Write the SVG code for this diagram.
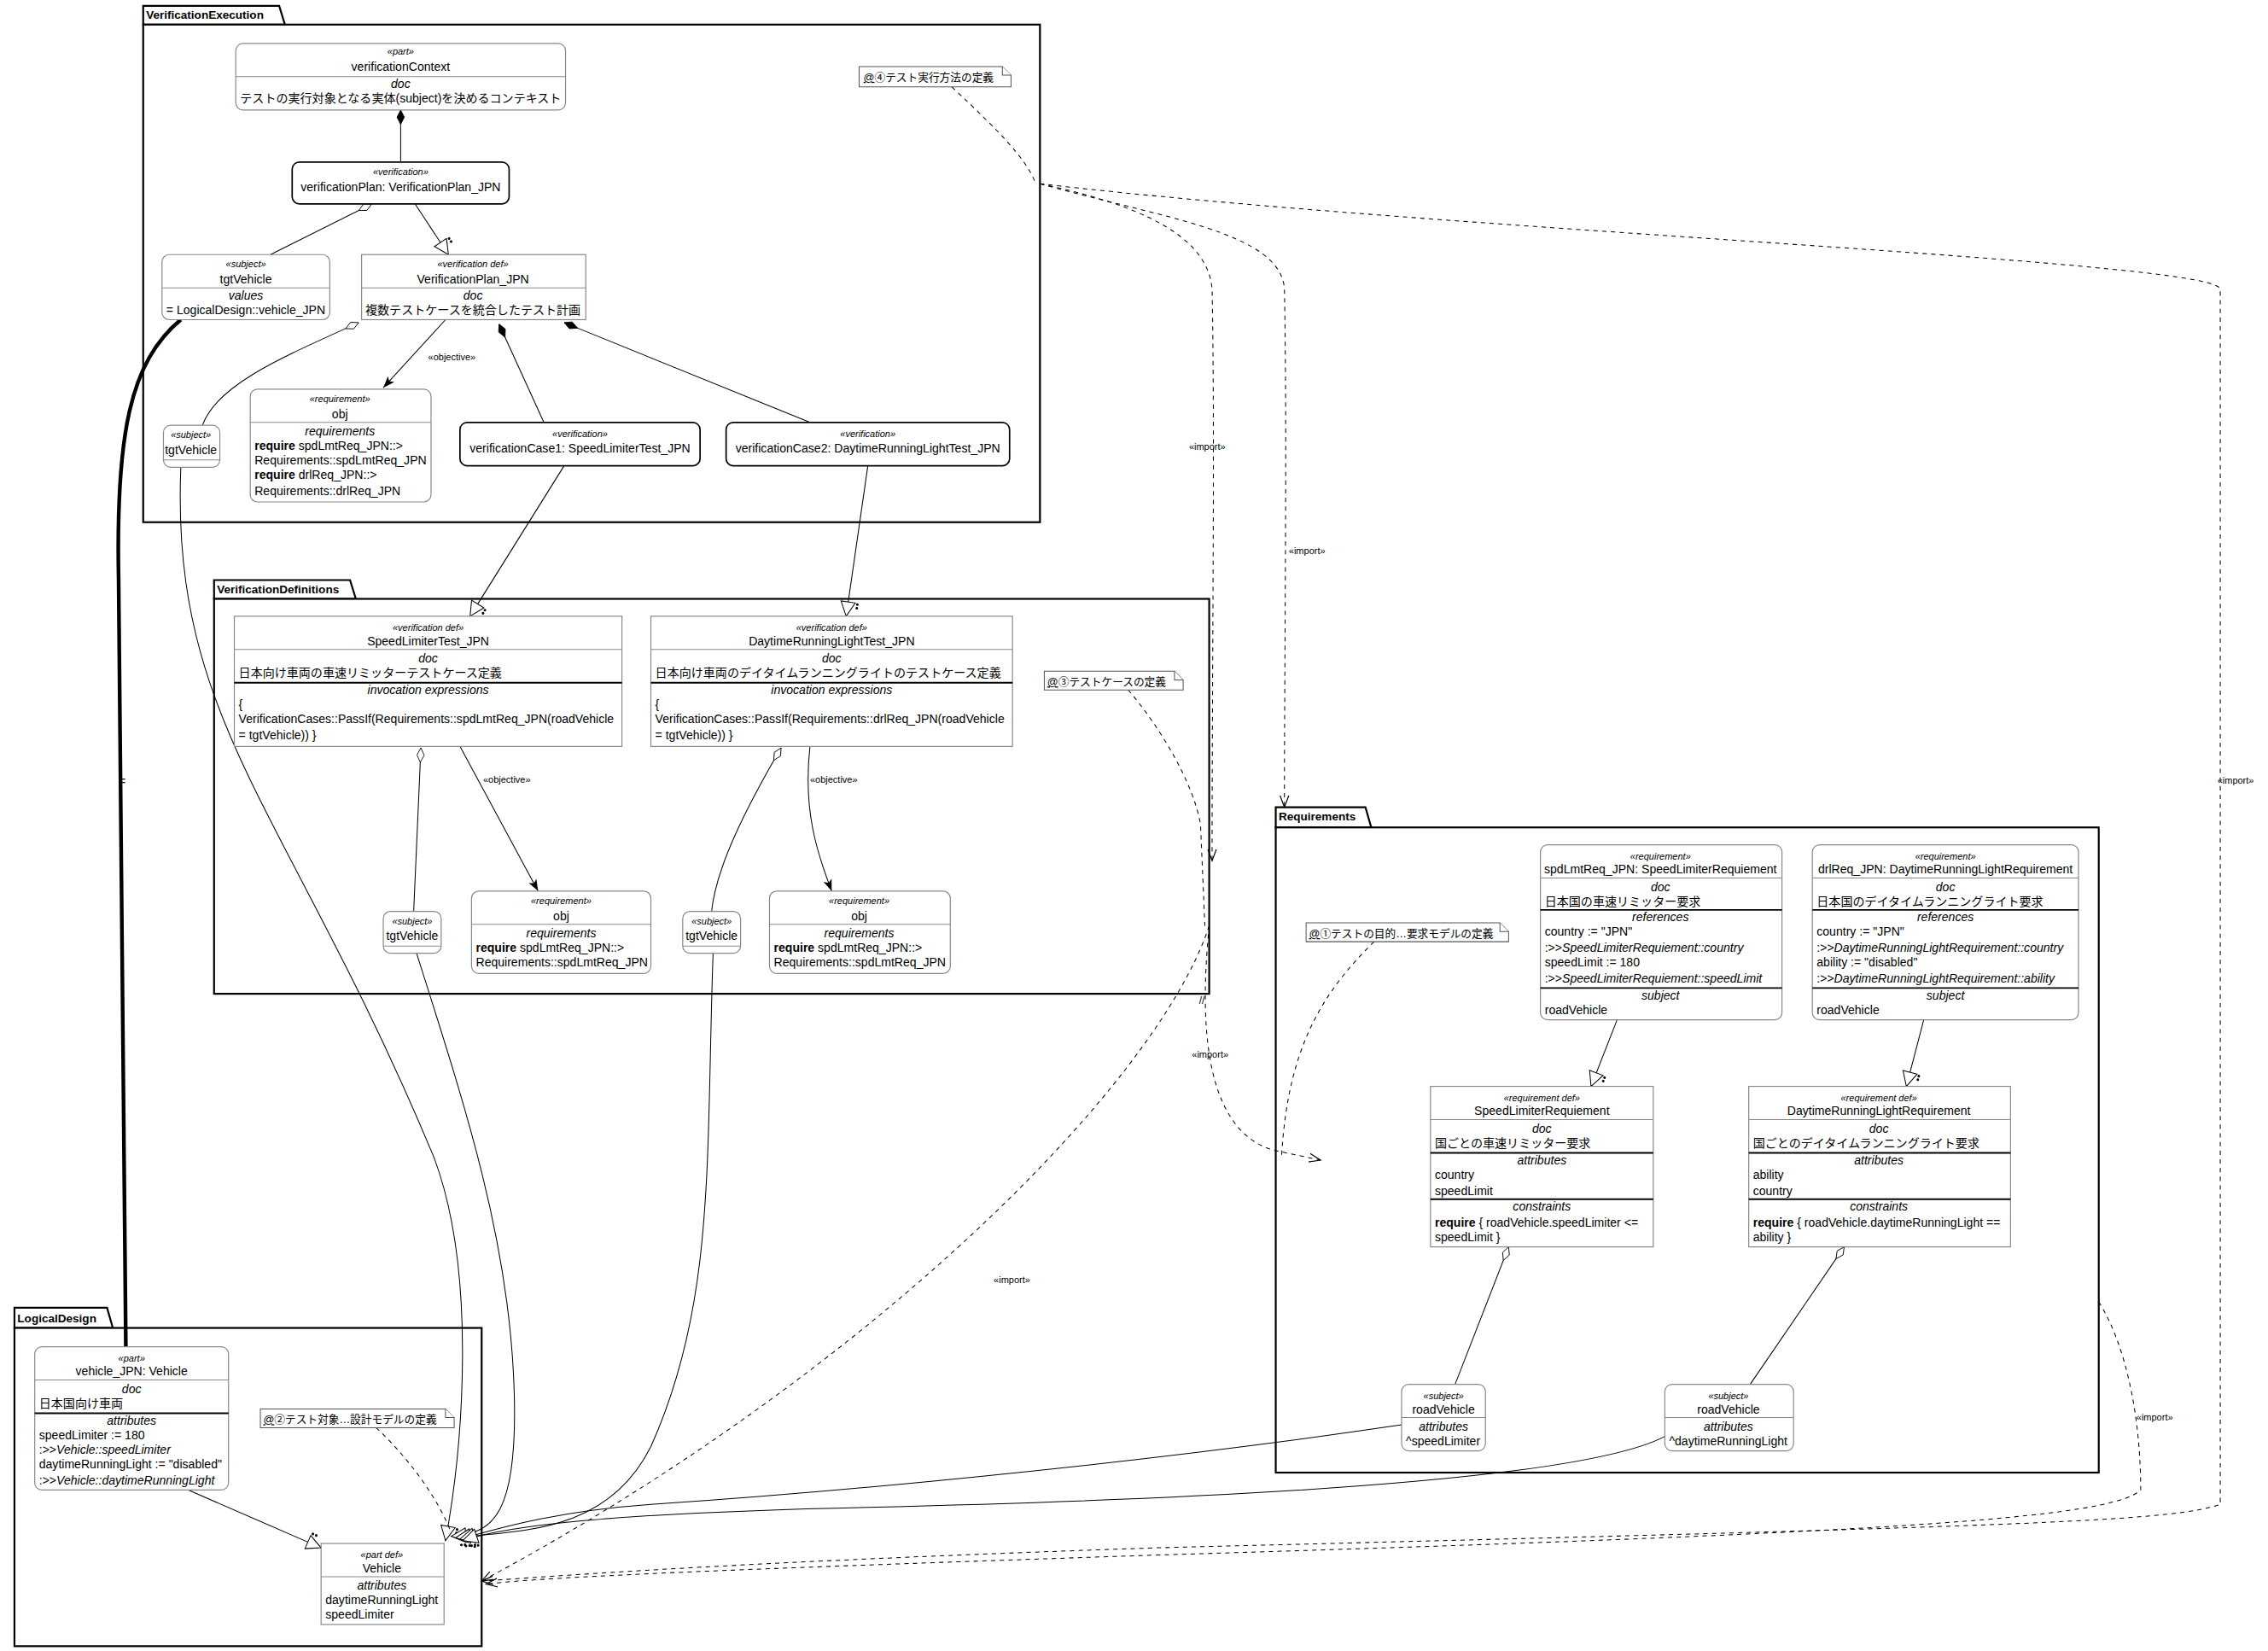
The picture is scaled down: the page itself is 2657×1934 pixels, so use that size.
<svg xmlns="http://www.w3.org/2000/svg" width="2657" height="1934" viewBox="0 0 2657 1934">
<style>
text{font-family:"Liberation Sans","Noto Sans CJK JP",sans-serif;font-size:8.3px;fill:#000}
.st{font-style:italic;font-size:6.5px}
.it{font-style:italic}
.b{font-weight:bold}
.c{text-anchor:middle}
.pk{fill:#fff;stroke:#000;stroke-width:1.3}
.pt{font-weight:bold;font-size:8px}
.bx{fill:#fff;stroke:#888;stroke-width:0.7}
.bv{fill:#fff;stroke:#000;stroke-width:1}
.sep{stroke:#888;stroke-width:0.6}
.tk{stroke:#000;stroke-width:1.1}
.ln{fill:none;stroke:#000;stroke-width:0.6}
.ds{fill:none;stroke:#000;stroke-width:0.6;stroke-dasharray:3,3}
.nt{fill:#fff;stroke:#555;stroke-width:0.6}
.nx{font-size:7.5px}
</style>
<defs>
<marker id="tri" markerUnits="userSpaceOnUse" markerWidth="14" markerHeight="16" viewBox="-2 -8 14 16" refX="10" refY="0" orient="auto"><path d="M0,-5 L10,0 L0,5 z" fill="#fff" stroke="#000" stroke-width="0.6"/><circle cx="1" cy="-6.5" r="0.9"/><circle cx="3.5" cy="-6.5" r="0.9"/></marker>
<marker id="fd" markerUnits="userSpaceOnUse" markerWidth="14" markerHeight="8" viewBox="0 -4 14 8" refX="0" refY="0" orient="auto"><path d="M0,0 L5,-2.5 L10,0 L5,2.5 z" fill="#000" stroke="#000" stroke-width="0.5"/></marker>
<marker id="od" markerUnits="userSpaceOnUse" markerWidth="14" markerHeight="8" viewBox="0 -4 14 8" refX="0" refY="0" orient="auto"><path d="M0,0 L5,-2.5 L10,0 L5,2.5 z" fill="#fff" stroke="#000" stroke-width="0.5"/></marker>
<marker id="fa" markerUnits="userSpaceOnUse" markerWidth="10" markerHeight="8" viewBox="0 -4 10 8" refX="8" refY="0" orient="auto"><path d="M0,-3 L8,0 L0,3 L2,0 z" fill="#000"/></marker>
<marker id="oa" markerUnits="userSpaceOnUse" markerWidth="10" markerHeight="8" viewBox="0 -4 10 8" refX="8" refY="0" orient="auto"><path d="M0,-3 L8,0 L0,3" fill="none" stroke="#000" stroke-width="0.7"/></marker>
</defs>
<rect width="2657" height="1934" fill="#fff"/>
<g transform="scale(1.6945)">
<g id="pkg-VerificationExecution"><path class="pk" d="M99,17 L99,4 L193,4 L197,17 Z"/><rect class="pk" x="99" y="17" width="620" height="344"/><text class="pt" x="101" y="13">VerificationExecution</text></g>
<g id="pkg-VerificationDefinitions"><path class="pk" d="M148,414 L148,401 L242,401 L246,414 Z"/><rect class="pk" x="148" y="414" width="688" height="273"/><text class="pt" x="150" y="410">VerificationDefinitions</text></g>
<g id="pkg-Requirements"><path class="pk" d="M882,572 L882,558 L944,558 L948,572 Z"/><rect class="pk" x="882" y="572" width="569" height="446"/><text class="pt" x="884" y="567">Requirements</text></g>
<g id="pkg-LogicalDesign"><path class="pk" d="M10,918 L10,904 L74,904 L78,918 Z"/><rect class="pk" x="10" y="918" width="323" height="220"/><text class="pt" x="12" y="914">LogicalDesign</text></g>

<g id="connectors">
<path class="ln" d="M277,76 L277,112" marker-start="url(#fd)"/>
<path class="ln" d="M257,141 L187,176" marker-start="url(#od)"/>
<path class="ln" d="M287,141 L310,176" marker-end="url(#tri)"/>
<path class="ln" d="M308,221 L265,268" marker-end="url(#fa)"/>
<text x="296" y="249" style="font-size:6.5px">«objective»</text>
<path class="ln" d="M345,224 L376,292" marker-start="url(#fd)"/>
<path class="ln" d="M390,223 L560,292" marker-start="url(#fd)"/>
<path class="ln" d="M248,223 C200,245 150,265 140,294" marker-start="url(#od)"/>
<path d="M125,221 C90,250 80,300 82,400 C84,600 87,800 87,931" fill="none" stroke="#000" stroke-width="2.6"/>
<text x="82" y="543">=</text>
<path class="ln" d="M125,323 C118,500 200,560 300,800 C330,880 320,1000 308,1065" marker-end="url(#tri)"/>
<path class="ln" d="M390,322 L325,426" marker-end="url(#tri)"/>
<path class="ln" d="M600,322 L585,426" marker-end="url(#tri)"/>
<path class="ln" d="M291,517 L286,630" marker-start="url(#od)"/>
<path class="ln" d="M318,516 L372,616" marker-end="url(#fa)"/>
<text x="334" y="541" style="font-size:6.5px">«objective»</text>
<path class="ln" d="M540,517 C515,560 495,600 492,630" marker-start="url(#od)"/>
<path class="ln" d="M560,516 C555,560 565,590 575,616" marker-end="url(#fa)"/>
<text x="560" y="541" style="font-size:6.5px">«objective»</text>
<path class="ln" d="M288,659 C320,760 350,850 355,950 C360,1050 340,1060 312,1062" marker-end="url(#tri)"/>
<path class="ln" d="M493,659 C488,800 495,900 450,1000 C420,1060 360,1058 315,1063" marker-end="url(#tri)"/>
<path class="ln" d="M1118,705 L1100,751" marker-end="url(#tri)"/>
<path class="ln" d="M1330,705 L1318,751" marker-end="url(#tri)"/>
<path class="ln" d="M1043,862 L1006,957" marker-start="url(#od)"/>
<path class="ln" d="M1275,862 L1210,957" marker-start="url(#od)"/>
<path class="ln" d="M969,985 C800,1010 600,1030 450,1040 C380,1045 340,1058 318,1064" marker-end="url(#tri)"/>
<path class="ln" d="M1151,993 C1100,1020 900,1035 600,1042 C420,1046 350,1055 320,1065" marker-end="url(#tri)"/>
<path class="ln" d="M130,1030 L222,1070" marker-end="url(#tri)"/>
<path class="ds" d="M719,127 C780,140 835,160 838,200 C840,300 838,450 838,595" marker-end="url(#oa)"/>
<text x="822" y="311" style="font-size:6.5px">«import»</text>
<path class="ds" d="M719,127 C800,150 886,160 888,200 C890,300 888,450 888,558" marker-end="url(#oa)"/>
<text x="891" y="383" style="font-size:6.5px">«import»</text>
<path class="ds" d="M719,127 C1000,160 1535,180 1535,200 L1535,1040 C1500,1052 1400,1055 800,1070 C500,1080 380,1090 333,1093" marker-end="url(#oa)"/>
<text x="1533" y="542" style="font-size:6.5px">«import»</text>
<path class="ds" d="M836,640 C830,700 830,780 880,795 L913,802" marker-end="url(#oa)"/>
<text x="824" y="731" style="font-size:6.5px">«import»</text>
<text x="829" y="694" style="font-size:7px">//</text>
<path class="ds" d="M836,640 C800,750 600,950 333,1093" marker-end="url(#oa)"/>
<text x="687" y="887" style="font-size:6.5px">«import»</text>
<path class="ds" d="M1451,900 C1470,930 1480,980 1480,1030 C1460,1050 1300,1060 800,1075 C500,1085 380,1090 336,1095" marker-end="url(#oa)"/>
<text x="1477" y="982" style="font-size:6.5px">«import»</text>
<path class="ds" d="M658,60 C690,90 710,110 716,127"/>
<path class="ds" d="M780,477 C800,500 825,540 830,570 L833,640"/>
<path class="ds" d="M950,651 C910,690 890,730 886,800"/>
<path class="ds" d="M260,987 C285,1010 305,1040 312,1060"/>
</g>

<g id="verificationContext"><rect class="bx" x="163" y="30" width="228" height="46" rx="5"/><text class="st c" x="277" y="38">«part»</text><text class="c" x="277" y="49">verificationContext</text><line class="sep" x1="163" y1="53" x2="391" y2="53"/><text class="it c" x="277" y="61">doc</text><text class="c" x="277" y="71">テストの実行対象となる実体(subject)を決めるコンテキスト</text></g>
<g id="verificationPlan"><rect class="bv" x="202" y="112" width="150" height="29" rx="5"/><text class="st c" x="277" y="121">«verification»</text><text class="c" x="277" y="132">verificationPlan: VerificationPlan_JPN</text></g>
<g id="tgtVehicle"><rect class="bx" x="112" y="176" width="116" height="45" rx="5"/><text class="st c" x="170" y="185">«subject»</text><text class="c" x="170" y="196">tgtVehicle</text><line class="sep" x1="112" y1="199" x2="228" y2="199"/><text class="it c" x="170" y="207">values</text><text x="115" y="217">= LogicalDesign::vehicle_JPN</text></g>
<g id="VerificationPlan_JPN"><rect class="bx" x="250" y="176" width="155" height="45"/><text class="st c" x="327" y="185">«verification def»</text><text class="c" x="327" y="196">VerificationPlan_JPN</text><line class="sep" x1="250" y1="199" x2="405" y2="199"/><text class="it c" x="327" y="207">doc</text><text class="c" x="327" y="217">複数テストケースを統合したテスト計画</text></g>
<g id="obj-plan"><rect class="bx" x="173" y="269" width="125" height="78" rx="5"/><text class="st c" x="235" y="278">«requirement»</text><text class="c" x="235" y="289">obj</text><line class="sep" x1="173" y1="292" x2="298" y2="292"/><text class="it c" x="235" y="301">requirements</text><text x="176" y="311"><tspan class="b">require</tspan> spdLmtReq_JPN::&gt;</text><text x="176" y="321">Requirements::spdLmtReq_JPN</text><text x="176" y="331"><tspan class="b">require</tspan> drlReq_JPN::&gt;</text><text x="176" y="342">Requirements::drlReq_JPN</text></g>
<g id="tgtVehicle-plan"><rect class="bx" x="113" y="294" width="39" height="29" rx="5"/><text class="st c" x="132" y="303">«subject»</text><text class="c" x="132" y="314">tgtVehicle</text><line class="sep" x1="113" y1="318" x2="152" y2="318"/></g>
<g id="verificationCase1"><rect class="bv" x="318" y="292" width="166" height="30" rx="5"/><text class="st c" x="401" y="302">«verification»</text><text class="c" x="401" y="313">verificationCase1: SpeedLimiterTest_JPN</text></g>
<g id="verificationCase2"><rect class="bv" x="502" y="292" width="196" height="30" rx="5"/><text class="st c" x="600" y="302">«verification»</text><text class="c" x="600" y="313">verificationCase2: DaytimeRunningLightTest_JPN</text></g>
<g id="note4"><path class="nt" d="M594,46 L693,46 L699,52 L699,60 L594,60 Z"/><path class="nt" d="M693,46 L693,52 L699,52"/><text class="nx" x="597" y="56"><tspan text-decoration="underline">@</tspan>④テスト実行方法の定義</text></g>

<g id="SpeedLimiterTest_JPN"><rect class="bx" x="162" y="426" width="268" height="90"/><text class="st c" x="296" y="436">«verification def»</text><text class="c" x="296" y="446">SpeedLimiterTest_JPN</text><line class="sep" x1="162" y1="449" x2="430" y2="449"/><text class="it c" x="296" y="458">doc</text><text x="165" y="468">日本向け車両の車速リミッターテストケース定義</text><line class="tk" x1="162" y1="472" x2="430" y2="472"/><text class="it c" x="296" y="480">invocation expressions</text><text x="165" y="490">{</text><text x="165" y="500">VerificationCases::PassIf(Requirements::spdLmtReq_JPN(roadVehicle</text><text x="165" y="511">= tgtVehicle)) }</text></g>
<g id="DaytimeRunningLightTest_JPN"><rect class="bx" x="450" y="426" width="250" height="90"/><text class="st c" x="575" y="436">«verification def»</text><text class="c" x="575" y="446">DaytimeRunningLightTest_JPN</text><line class="sep" x1="450" y1="449" x2="700" y2="449"/><text class="it c" x="575" y="458">doc</text><text x="453" y="468">日本向け車両のデイタイムランニングライトのテストケース定義</text><line class="tk" x1="450" y1="472" x2="700" y2="472"/><text class="it c" x="575" y="480">invocation expressions</text><text x="453" y="490">{</text><text x="453" y="500">VerificationCases::PassIf(Requirements::drlReq_JPN(roadVehicle</text><text x="453" y="511">= tgtVehicle)) }</text></g>
<g id="tgtVehicle-slt"><rect class="bx" x="265" y="630" width="40" height="29" rx="5"/><text class="st c" x="285" y="639">«subject»</text><text class="c" x="285" y="650">tgtVehicle</text><line class="sep" x1="265" y1="654" x2="305" y2="654"/></g>
<g id="obj-slt"><rect class="bx" x="326" y="616" width="124" height="57" rx="5"/><text class="st c" x="388" y="625">«requirement»</text><text class="c" x="388" y="636">obj</text><line class="sep" x1="326" y1="639" x2="450" y2="639"/><text class="it c" x="388" y="648">requirements</text><text x="329" y="658"><tspan class="b">require</tspan> spdLmtReq_JPN::&gt;</text><text x="329" y="668">Requirements::spdLmtReq_JPN</text></g>
<g id="tgtVehicle-drl"><rect class="bx" x="472" y="630" width="40" height="29" rx="5"/><text class="st c" x="492" y="639">«subject»</text><text class="c" x="492" y="650">tgtVehicle</text><line class="sep" x1="472" y1="654" x2="512" y2="654"/></g>
<g id="obj-drl"><rect class="bx" x="532" y="616" width="125" height="57" rx="5"/><text class="st c" x="594" y="625">«requirement»</text><text class="c" x="594" y="636">obj</text><line class="sep" x1="532" y1="639" x2="657" y2="639"/><text class="it c" x="594" y="648">requirements</text><text x="535" y="658"><tspan class="b">require</tspan> spdLmtReq_JPN::&gt;</text><text x="535" y="668">Requirements::spdLmtReq_JPN</text></g>
<g id="note3"><path class="nt" d="M722,464 L812,464 L818,470 L818,477 L722,477 Z"/><path class="nt" d="M812,464 L812,470 L818,470"/><text class="nx" x="724" y="474"><tspan text-decoration="underline">@</tspan>③テストケースの定義</text></g>

<g id="spdLmtReq_JPN"><rect class="bx" x="1065" y="584" width="167" height="121" rx="5"/><text class="st c" x="1148" y="594">«requirement»</text><text class="c" x="1148" y="604">spdLmtReq_JPN: SpeedLimiterRequiement</text><line class="sep" x1="1065" y1="607" x2="1232" y2="607"/><text class="it c" x="1148" y="616">doc</text><text x="1068" y="626">日本国の車速リミッター要求</text><line class="tk" x1="1065" y1="629" x2="1232" y2="629"/><text class="it c" x="1148" y="637">references</text><text x="1068" y="647">country := "JPN"</text><text x="1068" y="658">:&gt;&gt;<tspan class="it">SpeedLimiterRequiement::country</tspan></text><text x="1068" y="668">speedLimit := 180</text><text x="1068" y="679">:&gt;&gt;<tspan class="it">SpeedLimiterRequiement::speedLimit</tspan></text><line class="tk" x1="1065" y1="683" x2="1232" y2="683"/><text class="it c" x="1148" y="691">subject</text><text x="1068" y="701">roadVehicle</text></g>
<g id="drlReq_JPN"><rect class="bx" x="1253" y="584" width="184" height="121" rx="5"/><text class="st c" x="1345" y="594">«requirement»</text><text class="c" x="1345" y="604">drlReq_JPN: DaytimeRunningLightRequirement</text><line class="sep" x1="1253" y1="607" x2="1437" y2="607"/><text class="it c" x="1345" y="616">doc</text><text x="1256" y="626">日本国のデイタイムランニングライト要求</text><line class="tk" x1="1253" y1="629" x2="1437" y2="629"/><text class="it c" x="1345" y="637">references</text><text x="1256" y="647">country := "JPN"</text><text x="1256" y="658">:&gt;&gt;<tspan class="it">DaytimeRunningLightRequirement::country</tspan></text><text x="1256" y="668">ability := "disabled"</text><text x="1256" y="679">:&gt;&gt;<tspan class="it">DaytimeRunningLightRequirement::ability</tspan></text><line class="tk" x1="1253" y1="683" x2="1437" y2="683"/><text class="it c" x="1345" y="691">subject</text><text x="1256" y="701">roadVehicle</text></g>
<g id="SpeedLimiterRequiement"><rect class="bx" x="989" y="751" width="154" height="111"/><text class="st c" x="1066" y="761">«requirement def»</text><text class="c" x="1066" y="771">SpeedLimiterRequiement</text><line class="sep" x1="989" y1="774" x2="1143" y2="774"/><text class="it c" x="1066" y="783">doc</text><text x="992" y="793">国ごとの車速リミッター要求</text><line class="tk" x1="989" y1="797" x2="1143" y2="797"/><text class="it c" x="1066" y="805">attributes</text><text x="992" y="815">country</text><text x="992" y="826">speedLimit</text><line class="tk" x1="989" y1="829" x2="1143" y2="829"/><text class="it c" x="1066" y="837">constraints</text><text x="992" y="848"><tspan class="b">require</tspan> { roadVehicle.speedLimiter &lt;=</text><text x="992" y="858">speedLimit  }</text></g>
<g id="DaytimeRunningLightRequirement"><rect class="bx" x="1209" y="751" width="181" height="111"/><text class="st c" x="1299" y="761">«requirement def»</text><text class="c" x="1299" y="771">DaytimeRunningLightRequirement</text><line class="sep" x1="1209" y1="774" x2="1390" y2="774"/><text class="it c" x="1299" y="783">doc</text><text x="1212" y="793">国ごとのデイタイムランニングライト要求</text><line class="tk" x1="1209" y1="797" x2="1390" y2="797"/><text class="it c" x="1299" y="805">attributes</text><text x="1212" y="815">ability</text><text x="1212" y="826">country</text><line class="tk" x1="1209" y1="829" x2="1390" y2="829"/><text class="it c" x="1299" y="837">constraints</text><text x="1212" y="848"><tspan class="b">require</tspan> { roadVehicle.daytimeRunningLight ==</text><text x="1212" y="858">ability  }</text></g>
<g id="roadVehicle-slr"><rect class="bx" x="969" y="957" width="58" height="46" rx="5"/><text class="st c" x="998" y="967">«subject»</text><text class="c" x="998" y="977">roadVehicle</text><line class="sep" x1="969" y1="980" x2="1027" y2="980"/><text class="it c" x="998" y="989">attributes</text><text x="972" y="999">^speedLimiter</text></g>
<g id="roadVehicle-drl"><rect class="bx" x="1151" y="957" width="89" height="46" rx="5"/><text class="st c" x="1195" y="967">«subject»</text><text class="c" x="1195" y="977">roadVehicle</text><line class="sep" x1="1151" y1="980" x2="1240" y2="980"/><text class="it c" x="1195" y="989">attributes</text><text x="1154" y="999">^daytimeRunningLight</text></g>
<g id="note1"><path class="nt" d="M903,638 L1037,638 L1043,644 L1043,651 L903,651 Z"/><path class="nt" d="M1037,638 L1037,644 L1043,644"/><text class="nx" x="905" y="648"><tspan text-decoration="underline">@</tspan>①テストの目的…要求モデルの定義</text></g>

<g id="vehicle_JPN"><rect class="bx" x="24" y="931" width="134" height="99" rx="5"/><text class="st c" x="91" y="941">«part»</text><text class="c" x="91" y="951">vehicle_JPN: Vehicle</text><line class="sep" x1="24" y1="954" x2="158" y2="954"/><text class="it c" x="91" y="963">doc</text><text x="27" y="973">日本国向け車両</text><line class="tk" x1="24" y1="977" x2="158" y2="977"/><text class="it c" x="91" y="985">attributes</text><text x="27" y="995">speedLimiter := 180</text><text x="27" y="1005">:&gt;&gt;<tspan class="it">Vehicle::speedLimiter</tspan></text><text x="27" y="1015">daytimeRunningLight := "disabled"</text><text x="27" y="1026">:&gt;&gt;<tspan class="it">Vehicle::daytimeRunningLight</tspan></text></g>
<g id="Vehicle"><rect class="bx" x="222" y="1067" width="85" height="56"/><text class="st c" x="264" y="1077">«part def»</text><text class="c" x="264" y="1087">Vehicle</text><line class="sep" x1="222" y1="1090" x2="307" y2="1090"/><text class="it c" x="264" y="1099">attributes</text><text x="225" y="1109">daytimeRunningLight</text><text x="225" y="1119">speedLimiter</text></g>
<g id="note2"><path class="nt" d="M180,974 L308,974 L314,980 L314,987 L180,987 Z"/><path class="nt" d="M308,974 L308,980 L314,980"/><text class="nx" x="182" y="984"><tspan text-decoration="underline">@</tspan>②テスト対象…設計モデルの定義</text></g>
</g>
</svg>
